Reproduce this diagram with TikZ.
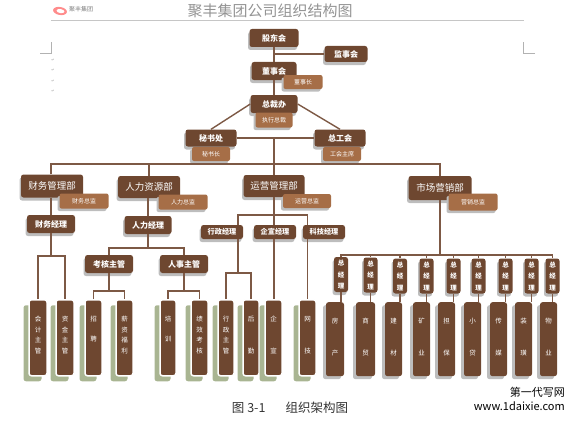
\documentclass[tikz,border=0pt]{standalone}
\usepackage{fontspec}
\setmainfont{Noto Sans CJK SC}
\newfontfamily\symfont{DejaVu Sans}
\usepackage{xcolor}
\usepackage{tikz}
\usetikzlibrary{shadows, calc}
\definecolor{brownDark}{HTML}{6E4730}
\definecolor{brownLight}{HTML}{A66E47}
\definecolor{shadeGray}{HTML}{BDBDBD}
\definecolor{shadeGreen}{HTML}{A9B592}
\tikzset{
  mainbox/.style={fill=brownDark, rounded corners=2.5pt, text=white, inner sep=0pt,
    font=\fontsize{8}{9}\selectfont\bfseries,
    drop shadow={shadow xshift=-1.5pt, shadow yshift=-3pt, fill=shadeGray, opacity=1}},
  deptbox/.style={mainbox, font=\fontsize{9.5}{12}\selectfont},
  smallbox/.style={mainbox, font=\fontsize{7.2}{9}\selectfont\bfseries},
  subbox/.style={fill=brownLight, rounded corners=2pt, text=white, inner sep=0pt,
    font=\fontsize{6}{8}\selectfont,
    drop shadow={shadow xshift=-2pt, shadow yshift=-2.5pt, fill=shadeGray, opacity=1}},
  stackbox/.style={mainbox, align=center, minimum width=14pt, minimum height=35pt,
    font=\fontsize{6.5}{11.5}\selectfont\bfseries},
  greencol/.style={fill=brownDark, draw=white, line width=1.5pt, rounded corners=2.5pt, text=white,
    align=center, inner sep=0pt, minimum height=76pt, anchor=north,
    font=\fontsize{6.5}{10.7}\selectfont,
    drop shadow={shadow xshift=-5.5pt, shadow yshift=-5.5pt, fill=shadeGreen, opacity=1}},
  graycol/.style={fill=brownDark, rounded corners=2.5pt, text=white,
    align=center, inner sep=0pt, minimum height=74pt, anchor=north,
    font=\fontsize{6.5}{10.7}\selectfont,
    drop shadow={shadow xshift=-3pt, shadow yshift=-3pt, fill=shadeGray, opacity=1}},
  retmark/.style={text=gray!70, inner sep=0pt, font=\symfont\fontsize{4}{5}\selectfont},
  link/.style={draw=brownDark!90!white, line width=1.4pt}
}
\newcommand{\tailgap}{\\[-5pt]\mbox{}}
\newcommand{\longtail}{\\[7pt]\mbox{}}
\begin{document}
\begin{tikzpicture}[x=1pt, y=-1pt]
\useasboundingbox (0,0) rectangle (575,420);

% ============= page furniture =============
\draw[gray!45, line width=0.7pt] (51,20) -- (524,20);
\draw[gray!60, line width=0.4pt] (40,53) -- (51.5,53) -- (51.5,42);
\draw[gray!60, line width=0.4pt] (535,53) -- (523.5,53) -- (523.5,42);
\node[retmark] (ret1) at (53,60) {↵};
\node[retmark] (ret2) at (53,70.5) {↵};
\node[retmark] (ret3) at (53,81) {↵};
\node[retmark] (ret4) at (53,91.5) {↵};
\fill[red!45!white, rotate around={-10:(60,11)}] (60,11) ellipse (7 and 4);
\fill[white, rotate around={-10:(60,11)}] (60.5,11) ellipse (4 and 2);
\node[text=gray, font=\fontsize{6}{7}\selectfont] (logotext) at (81,9) {聚丰集团};
\node[text=gray!85, font=\fontsize{15}{17}\selectfont] (title) at (270,11) {聚丰集团公司组织结构图};
\node[font=\fontsize{12.5}{14}\selectfont, text=black!80] (caption) at (290,408) {图 3-1\hspace{1.6em}组织架构图};
\node[font=\fontsize{11}{14}\selectfont, text=black, align=right, anchor=east, inner sep=0pt] (mark) at (565,399) {第一代写网\\www.1daixie.com};

% ============= top of the tree =============
\node[mainbox, minimum width=49pt, minimum height=18pt] (gudong) at (274,38) {股东会};
\node[mainbox, minimum width=43pt, minimum height=16pt] (jianshi) at (346,54) {监事会};
\node[mainbox, minimum width=45pt, minimum height=18pt] (dongshi) at (274,71) {董事会};
\node[subbox, minimum width=39pt, minimum height=14pt] (dongshizhang) at (303,82) {董事长};
\node[mainbox, minimum width=47pt, minimum height=18pt] (zongcai) at (274,104) {总裁办};
\node[subbox, minimum width=37pt, minimum height=15pt] (zhixing) at (274,120) {执行总裁};
\node[mainbox, minimum width=51pt, minimum height=17pt] (mishu) at (211,138) {秘书处};
\node[subbox, minimum width=38pt, minimum height=14pt] (mishuzhang) at (211,154) {秘书长};
\node[mainbox, minimum width=51pt, minimum height=17pt] (gonghui) at (340,138) {总工会};
\node[subbox, minimum width=38pt, minimum height=14pt] (zhuxi) at (342,154) {工会主席};

% ============= four departments =============
\node[deptbox, minimum width=62pt, minimum height=23pt] (caiwu) at (52,186) {财务管理部};
\node[subbox, minimum width=49pt, minimum height=15pt] (caiwuzj) at (84,201) {财务总监};
\node[deptbox, minimum width=62pt, minimum height=22pt] (renli) at (149,187) {人力资源部};
\node[subbox, minimum width=49pt, minimum height=15pt] (renlizj) at (183,202) {人力总监};
\node[deptbox, minimum width=61pt, minimum height=22pt] (yunying) at (274,186) {运营管理部};
\node[subbox, minimum width=48pt, minimum height=14pt] (yunyingzj) at (307,201) {运营总监};
\node[deptbox, minimum width=63pt, minimum height=24pt] (shichang) at (440,188) {市场营销部};
\node[subbox, minimum width=49pt, minimum height=17pt] (shichangzj) at (473,202) {营销总监};

% --- managers ---
\node[mainbox, minimum width=48pt, minimum height=18pt] (caiwujl) at (51,224) {财务经理};
\node[mainbox, minimum width=47pt, minimum height=18pt] (renlijl) at (148,225) {人力经理};
\node[mainbox, minimum width=48pt, minimum height=18pt] (kaohe) at (109,264) {考核主管};
\node[mainbox, minimum width=48pt, minimum height=18pt] (renshi) at (184,264) {人事主管};
\node[smallbox, minimum width=42pt, minimum height=14pt] (xingzheng) at (222,232) {行政经理};
\node[smallbox, minimum width=42pt, minimum height=14pt] (qixuan) at (275,232) {企宣经理};
\node[smallbox, minimum width=42pt, minimum height=14pt] (keji) at (324,232) {科技经理};

% --- nine general managers under marketing ---
\node[stackbox] (zj1) at (341,274.5) {总\\经\\理};
\node[stackbox] (zj2) at (370.5,275) {总\\经\\理};
\node[stackbox] (zj3) at (400,276) {总\\经\\理};
\node[stackbox] (zj4) at (426.5,276) {总\\经\\理};
\node[stackbox] (zj5) at (453.5,276) {总\\经\\理};
\node[stackbox] (zj6) at (478.5,276) {总\\经\\理};
\node[stackbox] (zj7) at (505.5,276) {总\\经\\理};
\node[stackbox] (zj8) at (531.5,276) {总\\经\\理};
\node[stackbox] (zj9) at (552.5,276) {总\\经\\理};

% ============= bottom columns =============
\node[greencol, minimum width=18pt] (c1) at (38,299) {会\\计\\主\\管\tailgap};
\node[greencol, minimum width=18pt] (c2) at (65,299) {资\\金\\主\\管\tailgap};
\node[greencol, minimum width=17pt] (c3) at (93.5,299) {招\\[9.3pt]聘\longtail};
\node[greencol, minimum width=17pt] (c4) at (124.5,299) {薪\\资\\福\\利\tailgap};
\node[greencol, minimum width=16pt] (c5) at (168,299) {培\\[9.3pt]训\longtail};
\node[greencol, minimum width=17pt] (c6) at (199.5,299) {绩\\效\\考\\核\tailgap};
\node[greencol, minimum width=16pt] (c7) at (226,299) {行\\政\\主\\管\tailgap};
\node[greencol, minimum width=16pt] (c8) at (251,299) {后\\[21.3pt]勤\tailgap};
\node[greencol, minimum width=17pt] (c9) at (273.5,299) {企\\[21.3pt]宣\tailgap};
\node[greencol, minimum width=17pt] (c10) at (307.5,299) {网\\[21.3pt]技\tailgap};
\node[graycol, minimum width=18pt] (m1) at (335,302) {房\\[21.3pt]产\tailgap};
\node[graycol, minimum width=19pt] (m2) at (365.5,302) {商\\[21.3pt]贸\tailgap};
\node[graycol, minimum width=17pt] (m3) at (393.5,302) {建\\[21.3pt]材\tailgap};
\node[graycol, minimum width=17pt] (m4) at (421.5,302) {矿\\[21.3pt]业\tailgap};
\node[graycol, minimum width=17pt] (m5) at (446.5,302) {担\\[21.3pt]保\tailgap};
\node[graycol, minimum width=17pt] (m6) at (472.5,302) {小\\[21.3pt]贷\tailgap};
\node[graycol, minimum width=17pt] (m7) at (498.5,302) {传\\[21.3pt]媒\tailgap};
\node[graycol, minimum width=17pt] (m8) at (523.5,302) {装\\[21.3pt]璜\tailgap};
\node[graycol, minimum width=17pt] (m9) at (548.5,302) {物\\[21.3pt]业\tailgap};

% ============= bars and junctions =============
\coordinate (topbar) at (274,54);
\coordinate (midbar) at (274,138);
\coordinate (deptbar) at (274,164);
\coordinate (caiwubox) at (51,256);
\coordinate (renlibar) at (148,248);
\coordinate (opsbar) at (274,215);
\coordinate (xzbar) at (238,273);
\coordinate (kaohebar) at (109,291);
\coordinate (renshibar) at (184,291);
\coordinate (mktbar) at (440,255);

% --- upper tree ---
\draw[link] (gudong) -- (dongshi);
\draw[link] (topbar) -- (jianshi);
\draw[link] (dongshi) -- (zongcai);
\draw[link] (zongcai.west) -- (mishu.north);
\draw[link] (zongcai.east) -- (gonghui.north);
\draw[link] (mishu) -- (gonghui);
\draw[link] (midbar) -- (deptbar);
\draw[link] (caiwu.north -| caiwujl) -- (caiwujl |- deptbar) -- (shichang |- deptbar) -- (shichang.north);
\draw[link] (renli.north) -- (renli |- deptbar);
\draw[link] (yunying.north) -- (deptbar);
% --- finance ---
\draw[link] (caiwu.south -| caiwujl) -- (caiwujl);
\draw[link] (caiwujl) -- (caiwubox);
\draw[link] (c1.north) -- (c1 |- caiwubox) -- (c2 |- caiwubox) -- (c2.north);
% --- human resources ---
\draw[link] (renli.south -| renlijl) -- (renlijl);
\draw[link] (renlijl) -- (renlibar);
\draw[link] (kaohe) -- (kaohe |- renlibar) -- (renshi |- renlibar) -- (renshi);
\draw[link] (kaohe) -- (kaohebar);
\draw[link] (renshi) -- (renshibar);
\draw[link] (c3.north) -- (c3 |- kaohebar) -- (c4 |- kaohebar) -- (c4.north);
\draw[link] (c5.north) -- (c5 |- renshibar) -- (c6 |- renshibar) -- (c6.north);
% --- operations ---
\draw[link] (yunying) -- (opsbar);
\draw[link] (xzbar |- xingzheng.north) -- (xzbar |- opsbar) -- (c10 |- opsbar) -- (c10 |- keji.north);
\draw[link] (opsbar) -- (opsbar |- qixuan.north);
\draw[link] (xzbar |- xingzheng.south) -- (xzbar);
\draw[link] (c7.north) -- (c7 |- xzbar) -- (c8 |- xzbar) -- (c8.north);
\draw[link] (opsbar |- qixuan.south) -- (opsbar |- c9.north);
\draw[link] (c10 |- keji.south) -- (c10.north);
% --- marketing ---
\draw[link] (shichang) -- (mktbar);
\draw[link] (zj1) -- (zj1 |- mktbar) -- (zj9 |- mktbar) -- (zj9);
\draw[link] (zj2.north) -- (zj2 |- mktbar);
\draw[link] (zj3.north) -- (zj3 |- mktbar);
\draw[link] (zj4.north) -- (zj4 |- mktbar);
\draw[link] (zj5.north) -- (zj5 |- mktbar);
\draw[link] (zj6.north) -- (zj6 |- mktbar);
\draw[link] (zj7.north) -- (zj7 |- mktbar);
\draw[link] (zj8.north) -- (zj8 |- mktbar);
\draw[link] (zj1.south) -- (zj1.south |- m1.north);
\draw[link] (zj2.south) -- (zj2.south |- m2.north);
\draw[link] (zj3.south) -- (zj3.south |- m3.north);
\draw[link] (zj4.south) -- (zj4.south |- m4.north);
\draw[link] (zj5.south) -- (zj5.south |- m5.north);
\draw[link] (zj6.south) -- (zj6.south |- m6.north);
\draw[link] (zj7.south) -- (zj7.south |- m7.north);
\draw[link] (zj8.south) -- (zj8.south |- m8.north);
\draw[link] (zj9.south) -- (zj9.south |- m9.north);
\end{tikzpicture}
\end{document}
